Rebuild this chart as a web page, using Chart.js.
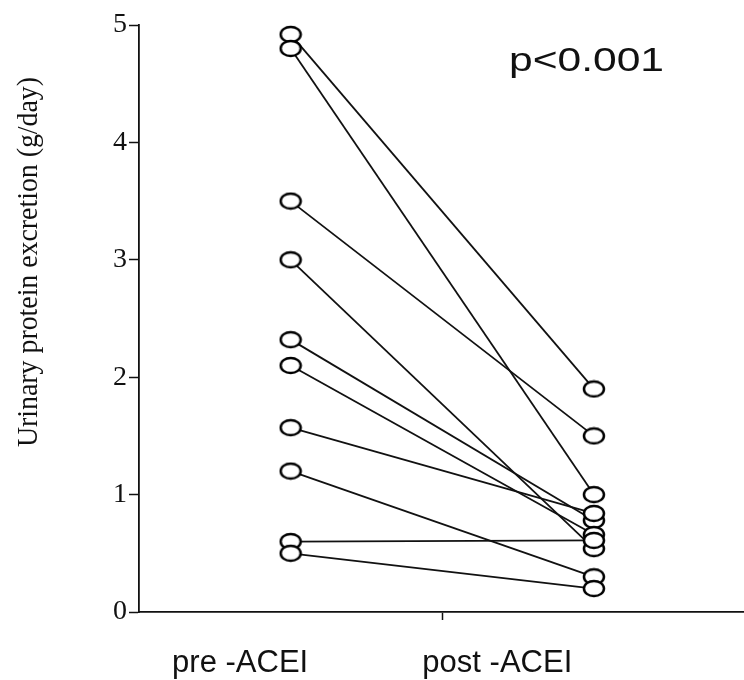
<!DOCTYPE html>
<html>
<head>
<meta charset="utf-8">
<script src="https://cdn.jsdelivr.net/npm/chart.js@4"></script>
<style>
  html, body { margin: 0; padding: 0; background: #fff; overflow: hidden; }
  #wrap { width: 744px; height: 680px; position: relative; }
</style>
</head>
<body>
<div id="wrap"><canvas id="proteinChart"></canvas></div>
<script>
// values (g/day), one entry per patient
const groups = ['pre -ACEI', 'post -ACEI'];
const preACEI = [4.92, 4.80, 3.50, 3.00, 2.32, 2.10, 1.57, 1.20, 0.60, 0.50];
const postACEI = [1.90, 1.00, 1.50, 0.54, 0.78, 0.66, 0.84, 0.30, 0.61, 0.20];
const yTicks = [0, 1, 2, 3, 4, 5];
const pText = 'p<0.001';
const yTitle = 'Urinary protein excretion (g/day)';

// x layout of the linear axis
const PRE_X = 1, POST_X = 3, MID_TICK = 2;
const LABEL_X = [0.667, 2.363];

// open ellipse marker, the scan is a bit wider than tall
function makeMarker() {
  const c = document.createElement('canvas');
  c.width = 24; c.height = 19;
  const g = c.getContext('2d');
  g.beginPath();
  g.ellipse(12, 9.5, 10, 7.6, 0, 0, Math.PI * 2);
  g.fillStyle = '#fff';
  g.fill();
  g.lineWidth = 2.5;
  g.strokeStyle = '#000';
  g.stroke();
  return c;
}
const marker = makeMarker();

const lineSets = preACEI.map((v, i) => ({
  data: [{x: PRE_X, y: v}, {x: POST_X, y: postACEI[i]}],
  showLine: true,
  borderColor: '#111',
  borderWidth: 1.8,
  pointRadius: 0,
  order: 1
}));

const pointSet = {
  data: preACEI.map(v => ({x: PRE_X, y: v})).concat(postACEI.map(v => ({x: POST_X, y: v}))),
  showLine: false,
  pointStyle: marker,
  pointRadius: 9,
  order: 0
};

// rotated y title and the p value, squeezed to the width seen in the scan
const textPlugin = {
  id: 'textPlugin',
  afterDraw(chart) {
    const ctx = chart.ctx;
    ctx.save();
    ctx.fillStyle = '#111';
    ctx.font = '30px "Liberation Serif", "Times New Roman", serif';
    ctx.textAlign = 'center';
    ctx.textBaseline = 'middle';
    const w = ctx.measureText(yTitle).width;
    ctx.translate(29, 262);
    ctx.rotate(-Math.PI / 2);
    ctx.scale(370 / w, 1);
    ctx.fillText(yTitle, 0, 0);
    ctx.restore();

    ctx.save();
    ctx.fillStyle = '#111';
    ctx.font = '34px "Liberation Sans", Arial, sans-serif';
    ctx.textAlign = 'left';
    ctx.textBaseline = 'alphabetic';
    const pw = ctx.measureText(pText).width;
    ctx.translate(509, 71);
    ctx.scale(155 / pw, 1);
    ctx.fillText(pText, 0, 0);
    ctx.restore();
  }
};

new Chart(document.getElementById('proteinChart'), {
  type: 'scatter',
  data: { datasets: lineSets.concat([pointSet]) },
  plugins: [textPlugin],
  options: {
    responsive: true,
    maintainAspectRatio: false,
    animation: false,
    layout: { autoPadding: false, padding: { top: 25, right: 0, bottom: 0, left: 0 } },
    plugins: { legend: { display: false }, tooltip: { enabled: false } },
    scales: {
      x: {
        type: 'linear',
        min: 0,
        max: 3.99,
        afterBuildTicks(scale) {
          scale.ticks = [{value: LABEL_X[0]}, {value: MID_TICK}, {value: LABEL_X[1]}];
        },
        afterFit(scale) {
          scale.height = 68;
          scale.paddingLeft = 0;
          scale.paddingRight = 0;
        },
        ticks: {
          autoSkip: false,
          maxRotation: 0,
          padding: 25,
          color: '#111',
          font: { family: '"Liberation Sans", Arial, sans-serif', size: 31 },
          callback(value) {
            if (value === LABEL_X[0]) return groups[0];
            if (value === LABEL_X[1]) return groups[1];
            return '';
          }
        },
        grid: {
          drawOnChartArea: false,
          tickLength: 8,
          tickWidth: 1.5,
          tickColor: ctx => (ctx.tick && ctx.tick.value === MID_TICK) ? '#111' : 'rgba(0,0,0,0)'
        },
        border: { color: '#111', width: 1.8 }
      },
      y: {
        min: yTicks[0],
        max: yTicks[yTicks.length - 1],
        afterBuildTicks(scale) {
          scale.ticks = yTicks.map(v => ({value: v}));
        },
        afterFit(scale) { scale.width = 139; },
        ticks: {
          padding: 2,
          color: '#111',
          font: { family: '"Liberation Serif", "Times New Roman", serif', size: 28 }
        },
        grid: {
          drawOnChartArea: false,
          tickLength: 10,
          tickWidth: 1.5,
          tickColor: '#111'
        },
        border: { color: '#111', width: 1.8 }
      }
    }
  }
});
</script>
</body>
</html>
